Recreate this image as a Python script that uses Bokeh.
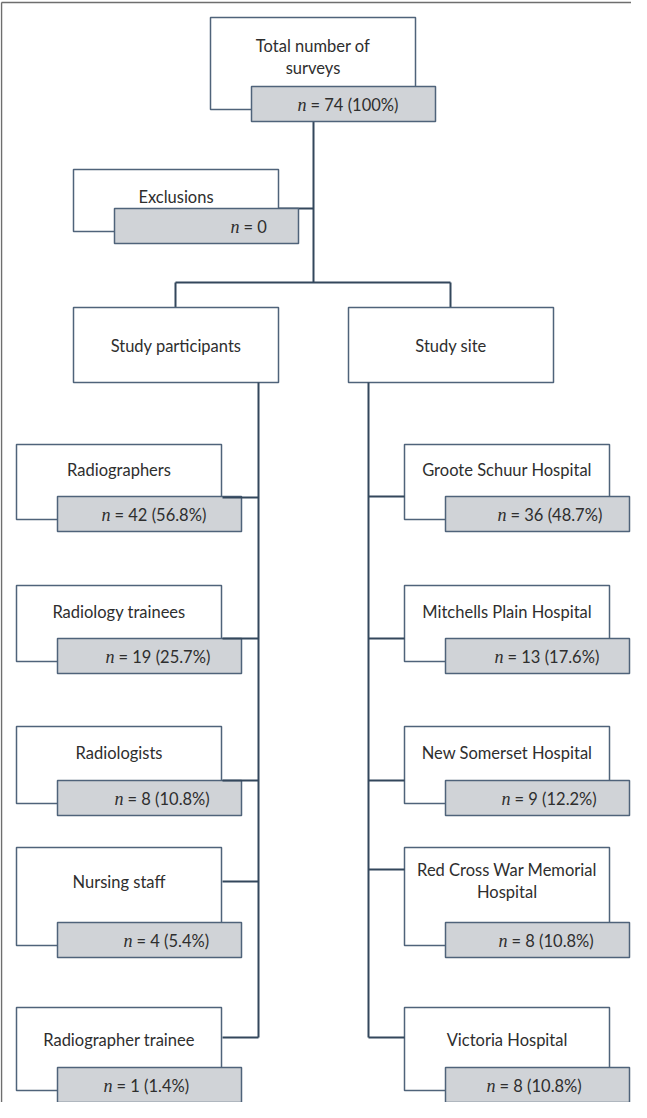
from bokeh.plotting import figure
from bokeh.models import Range1d
from bokeh.core.properties import value
from bokeh.embed import file_html
from bokeh.resources import INLINE

# ---------------- data ----------------
total_n = 74
total_pct = "100%"
exclusions_n = 0
participants = ["Radiographers", "Radiology trainees", "Radiologists", "Nursing staff", "Radiographer trainee"]
participant_n = [42, 19, 8, 4, 1]
participant_pct = [56.8, 25.7, 10.8, 5.4, 1.4]
sites = ["Groote Schuur Hospital", "Mitchells Plain Hospital", "New Somerset Hospital",
         "Red Cross War Memorial|Hospital", "Victoria Hospital"]
site_n = [36, 13, 9, 8, 8]
site_pct = [48.7, 17.6, 12.2, 10.8, 10.8]

# ---------------- style / layout ----------------
EDGE = "#4f637a"
LINK = "#33475c"
FILL = "#d0d3d7"
TXT = "#2e2e2e"
FONT = value("Lato")
FS = "16.5px"
NFONT = value("Liberation Serif")

p = figure(width=631, height=1102, x_range=Range1d(8, 639), y_range=Range1d(1110, 8),
           output_backend="svg", toolbar_location=None, min_border=0)
p.axis.visible = False
p.grid.visible = False
p.outline_line_color = None
p.background_fill_color = "white"

W_WHITE = 205
G_DX0, G_DX1 = 41, 20
G_H = 35


def line(xs, ys, color=LINK, width=2):
    p.line(xs, ys, line_color=color, line_width=width)


def node(x0, top, bottom, gtop, lines, text_top, n_val, n_pct, n_off):
    x1 = x0 + W_WHITE
    p.quad(left=[x0], right=[x1], top=[top], bottom=[bottom], fill_color="white",
           line_color=EDGE, line_width=1.5)
    gx0, gx1 = x0 + G_DX0, x1 + G_DX1
    p.quad(left=[gx0], right=[gx1], top=[gtop], bottom=[gtop + G_H], fill_color=FILL,
           line_color=EDGE, line_width=1.5)
    for i, s in enumerate(lines):
        p.text(x=[(x0 + x1) / 2], y=[text_top + i * 22], text=[s], text_align="center",
               text_baseline="middle", text_font=FONT, text_font_size=FS, text_color=TXT)
    sx = gx0 + n_off
    cy = gtop + G_H / 2 + 1
    p.text(x=[sx], y=[cy], text=["n"], text_align="left", text_baseline="middle",
           text_font=NFONT, text_font_style="italic", text_font_size="18px", text_color=TXT)
    rest = "= %s" % n_val if n_pct is None else "= %s (%s)" % (n_val, n_pct)
    p.text(x=[sx + 13], y=[cy], text=[rest], text_align="left", text_baseline="middle",
           text_font=FONT, text_font_size=FS, text_color=TXT)


# outer frame
line([9, 647], [10, 10], color="#6e6e6e", width=1.5)
line([9, 9], [10, 1118], color="#6e6e6e", width=1.5)

# trunk and branches
line([321, 321], [129, 290])
line([286, 321], [216, 216])
line([183, 458], [290, 290])
line([183, 183], [290, 315])
line([458, 458], [290, 315])

# top node
node(218, 25, 117, 94, ["Total number of", "surveys"], 53, total_n, total_pct, 46)
# exclusions
node(81, 177, 239, 216, ["Exclusions"], 204, exclusions_n, None, 116)

# category boxes
for x0, lab in [(81, "Study participants"), (356, "Study site")]:
    p.quad(left=[x0], right=[x0 + W_WHITE], top=[315], bottom=[390], fill_color="white",
           line_color=EDGE, line_width=1.5)
    p.text(x=[x0 + W_WHITE / 2], y=[353], text=[lab], text_align="center",
           text_baseline="middle", text_font=FONT, text_font_size=FS, text_color=TXT)

row_top = [452, 593, 734, 855, 1015]
row_gray = [504, 646, 788, 930, 1075]
left_text = [477, 619, 760, 889, 1047]
right_text = [477, 619, 760, 877, 1047]
left_link = [505, 646, 788, 889, 1045]
right_link = [504, 646, 788, 877, 1045]
left_off = [44, 48, 57, 66, 46]
right_off = [52, 49, 56, 53, 41]

for i in range(5):
    top, gtop = row_top[i], row_gray[i]
    node(24, top, gtop + 23, gtop, [participants[i]], left_text[i], participant_n[i],
         "%s%%" % participant_pct[i], left_off[i])
    node(412, top, gtop + 23, gtop, sites[i].split("|"), right_text[i], site_n[i],
         "%s%%" % site_pct[i], right_off[i])
    line([230, 266], [left_link[i], left_link[i]])
    line([376, 412], [right_link[i], right_link[i]])

line([266, 266], [390, left_link[-1]])
line([376, 376], [390, right_link[-1]])

open("out.html", "w").write(file_html(p, INLINE))
